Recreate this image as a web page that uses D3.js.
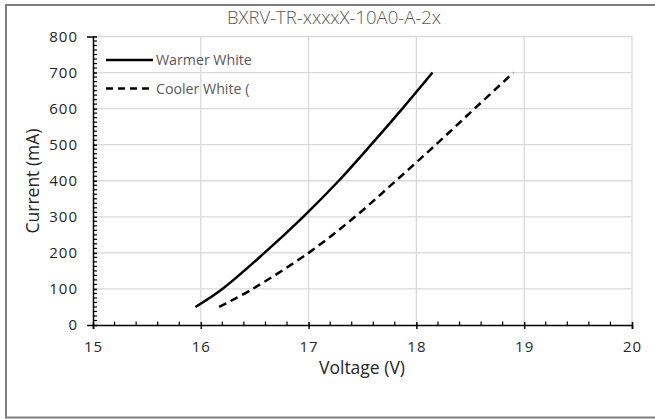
<!DOCTYPE html>
<html>
<head>
<meta charset="utf-8">
<script src="https://cdn.jsdelivr.net/npm/d3@7"></script>
<style>
  html, body { margin: 0; padding: 0; background: #fff; }
  svg { display: block; }
</style>
</head>
<body>
<svg id="chart" width="655" height="419"></svg>
<script>
// ---- data ----
const title = "BXRV-TR-xxxxX-10A0-A-2x";
const seriesNames = ["Warmer White", "Cooler White ("];
const warmVoltage = [15.95, 16.20, 16.59, 16.95, 17.28, 17.58, 17.87, 18.15];
const warmCurrent = [50, 100, 200, 300, 400, 500, 600, 700];
const coolVoltage = [16.17, 16.48, 17.0, 17.43, 17.81, 18.18, 18.54, 18.90];
const coolCurrent = [50, 100, 200, 300, 400, 500, 600, 700];
const xTicks = [15, 16, 17, 18, 19, 20];
const yTicks = [0, 100, 200, 300, 400, 500, 600, 700, 800];
const xLabel = "Voltage (V)";
const yLabel = "Current (mA)";

const svg = d3.select("#chart");
const plotL = 93, plotR = 632, plotT = 36.5, plotB = 325;

// frame
svg.append("rect").attr("x", 6).attr("y", 5).attr("width", 660).attr("height", 412.5)
  .attr("fill", "#fff").attr("stroke", "#7f7f7f").attr("stroke-width", 2);

const x = d3.scaleLinear().domain([15, 20]).range([plotL, plotR]);
const y = d3.scaleLinear().domain([0, 800]).range([plotB, plotT]);

// gridlines
const grid = svg.append("g").attr("stroke", "#d9d9d9").attr("stroke-width", 1.3);
xTicks.slice(1).forEach(v => grid.append("line")
  .attr("x1", x(v)).attr("x2", x(v)).attr("y1", plotT).attr("y2", plotB));
yTicks.slice(1).forEach(v => grid.append("line")
  .attr("x1", plotL).attr("x2", plotR).attr("y1", y(v)).attr("y2", y(v)));

const font = "'Open Sans', Lato, sans-serif";

// x axis
const xAxis = svg.append("g").attr("transform", `translate(0,${plotB})`);
xAxis.call(d3.axisBottom(x).tickValues(xTicks).tickSize(4).tickFormat(d3.format("d")))
  .call(g => g.select(".domain").attr("stroke", "#000").attr("stroke-width", 1.5))
  .call(g => g.selectAll(".tick line").attr("y1", -3).attr("stroke", "#000").attr("stroke-width", 1.5))
  .call(g => g.selectAll(".tick text").attr("y", 16).attr("font-size", 15)
    .attr("letter-spacing", 1).attr("font-family", font).attr("fill", "#262626"));
const xMinor = d3.range(15, 20.001, 0.2).filter(v => Math.abs(v - Math.round(v)) > 1e-6);
xAxis.selectAll(".minor").data(xMinor).join("line").attr("class", "minor")
  .attr("x1", d => x(d)).attr("x2", d => x(d)).attr("y1", 0).attr("y2", -3.5)
  .attr("stroke", "#000").attr("stroke-width", 1.2);

// y axis
const yAxis = svg.append("g").attr("transform", `translate(${plotL},0)`);
yAxis.call(d3.axisLeft(y).tickValues(yTicks).tickSize(6).tickFormat(d3.format("d")))
  .call(g => g.select(".domain").attr("stroke", "#000").attr("stroke-width", 1.5))
  .call(g => g.selectAll(".tick line").attr("x2", 4).attr("stroke", "#000").attr("stroke-width", 1.5))
  .call(g => g.selectAll(".tick text").attr("x", -15).attr("font-size", 15)
    .attr("letter-spacing", 1).attr("font-family", font).attr("fill", "#262626"));
const yMinor = d3.range(0, 800.001, 12.5).filter(v => v % 100 !== 0);
yAxis.selectAll(".minor").data(yMinor).join("line").attr("class", "minor")
  .attr("y1", d => y(d)).attr("y2", d => y(d)).attr("x1", 0).attr("x2", 4)
  .attr("stroke", "#000").attr("stroke-width", 1.2);

// lines
const line = d3.line().x(d => x(d[0])).y(d => y(d[1])).curve(d3.curveCatmullRom.alpha(0.5));
const warm = warmVoltage.map((v, i) => [v, warmCurrent[i]]);
const cool = coolVoltage.map((v, i) => [v, coolCurrent[i]]);
svg.append("path").attr("d", line(warm)).attr("fill", "none")
  .attr("stroke", "#000").attr("stroke-width", 2.5);
svg.append("path").attr("d", line(cool)).attr("fill", "none")
  .attr("stroke", "#000").attr("stroke-width", 2.5).attr("stroke-dasharray", "8,5");

// legend
const legend = svg.append("g");
[["none", 60], ["7,5", 88.5]].forEach((s, i) => {
  legend.append("line").attr("x1", 106).attr("x2", 153).attr("y1", s[1]).attr("y2", s[1])
    .attr("stroke", "#000").attr("stroke-width", 2.5)
    .attr("stroke-dasharray", s[0] === "none" ? null : s[0]);
  legend.append("text").attr("x", 156).attr("y", s[1] + 5).text(seriesNames[i])
    .attr("font-family", "'Open Sans', sans-serif").attr("font-size", 14.2).attr("fill", "#595959");
});

// title and axis labels
svg.append("text").attr("x", 334).attr("y", 24).attr("text-anchor", "middle")
  .attr("font-family", font).attr("font-size", 18.5).attr("font-weight", 300)
  .attr("fill", "#595959").text(title);
svg.append("text").attr("x", 362).attr("y", 374).attr("text-anchor", "middle")
  .attr("font-family", font).attr("font-size", 17.5).attr("fill", "#262626").text(xLabel);
svg.append("text").attr("transform", "translate(39,181) rotate(-90)").attr("text-anchor", "middle")
  .attr("font-family", font).attr("font-size", 17.5).attr("fill", "#262626").text(yLabel);
</script>
</body>
</html>
